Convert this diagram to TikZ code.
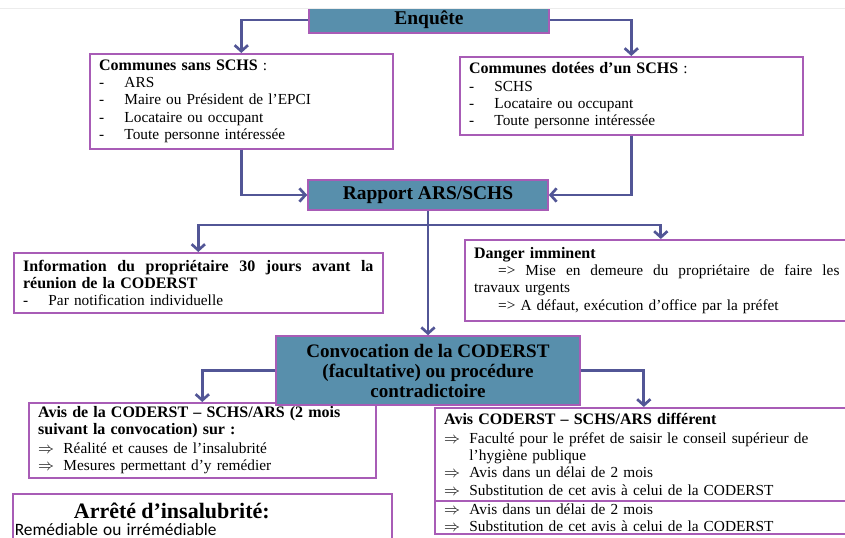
\documentclass[tikz,border=0pt]{standalone}
\usepackage{fontspec}
\setmainfont{Liberation Serif}
\newfontfamily\calibfont{Carlito}
\usepackage{tikz}
\usetikzlibrary{arrows.meta,positioning}
\definecolor{boxblue}{RGB}{88,143,172}
\definecolor{boxline}{RGB}{168,92,182}
\definecolor{arrline}{RGB}{82,86,150}
\newcommand{\tiret}{\makebox[19pt][l]{-}}
\newcommand{\alors}{\makebox[19pt][l]{$\Rightarrow$}}
\newcommand{\gras}[1]{{\fontsize{12}{13}\selectfont\bfseries #1}}
\newcommand{\etire}[2]{\makebox[#1][s]{\spaceskip=0pt\xspaceskip=0pt\relax #2}}

\begin{document}
\begin{tikzpicture}[x=0.75pt, y=-0.75pt,
    every node/.style={font=\fontsize{11.5}{13}\selectfont},
    bluebox/.style={draw=boxline, line width=1.2pt, fill=boxblue, inner sep=0pt, align=center,
      font=\fontsize{14.6}{15}\selectfont\bfseries},
    whitebox/.style={draw=boxline, line width=1.2pt, fill=white, anchor=north west,
      inner xsep=7pt, inner ysep=1.5pt, align=left},
    arr/.style={draw=arrline, line width=2pt, -{Straight Barb[length=4.5pt,width=10pt]}}]
  \useasboundingbox (0,0) rectangle (845,538);
  \clip (0,0) rectangle (845,538);

  % top row
  \node[bluebox, minimum width=180pt, minimum height=19.5pt] (enq) at (429,20) {Enquête};
  \fill[white] (0,0) rectangle (845,8);
  \draw[gray!15] (0,8.5) -- (845,8.5);
  \node[whitebox, minimum width=227.25pt, minimum height=71.25pt, text width=213.25pt] (sans) at (89,53)
    {\gras{Communes sans SCHS} :\\
     \tiret ARS\\
     \tiret Maire ou Président de l’EPCI\\
     \tiret Locataire ou occupant\\
     \tiret Toute personne intéressée};
  \node[whitebox, minimum width=257.25pt, minimum height=58.5pt, text width=243.25pt] (dotees) at (459,56)
    {\gras{Communes dotées d’un SCHS} :\\
     \tiret SCHS\\
     \tiret Locataire ou occupant\\
     \tiret Toute personne intéressée};

  % rapport
  \node[bluebox, minimum width=180pt, minimum height=22.5pt] (rap) at (428,195) {Rapport ARS/SCHS};
  \node[whitebox, minimum width=276.75pt, minimum height=45pt, text width=262.75pt] (info) at (13,252)
    {\gras{\etire{262.75pt}{Information du propriétaire 30 jours avant la}}\\
     \gras{réunion de la CODERST}\\
     \tiret Par notification individuelle};
  \node[whitebox, minimum width=294pt, minimum height=60.75pt, text width=280pt] (danger) at (464,239)
    {\gras{Danger imminent}\\
     \hspace*{18pt}\etire{256pt}{=> Mise en demeure du propriétaire de faire les}\\
     travaux urgents\\
     \hspace*{18pt}=> A défaut, exécution d’office par la préfet};

  % avis
  \node[whitebox, minimum width=260.25pt, minimum height=56.25pt, text width=246.25pt] (avisa) at (28,402)
    {\gras{Avis de la CODERST – SCHS/ARS (2 mois}\\
     \gras{suivant la convocation) sur :}\\[1pt]
     \alors Réalité et causes de l’insalubrité\\
     \alors Mesures permettant d’y remédier};
  \node[whitebox, minimum width=313.5pt, minimum height=69.75pt, text width=299.5pt] (avisb) at (434,407)
    {\gras{Avis CODERST – SCHS/ARS différent}\\[1pt]
     \alors Faculté pour le préfet de saisir le conseil supérieur de\\
     \hspace*{19pt}l’hygiène publique\\
     \alors Avis dans un délai de 2 mois\\
     \alors Substitution de cet avis à celui de la CODERST};
  \node[whitebox, minimum width=313.5pt, text width=299.5pt, inner ysep=2pt] (avisc) at (434,500)
    {\alors Avis dans un délai de 2 mois\\
     \alors Substitution de cet avis à celui de la CODERST};
  \node[whitebox, minimum width=284.25pt, minimum height=38pt, inner xsep=1.5pt, text width=281.25pt] (arrete) at (12,493)
    {\makebox[235.5pt][c]{\fontsize{16.5}{17}\selectfont\bfseries Arrêté d’insalubrité:}\\
     {\calibfont\fontsize{13}{13}\selectfont Remédiable ou irrémédiable}};

  % convocation
  \node[bluebox, minimum width=228pt, minimum height=51.75pt, font=\fontsize{14.3}{15}\selectfont\bfseries] (conv) at (428,370.5)
    {Convocation de la CODERST\\(facultative) ou procédure\\contradictoire};

  % connectors
  \coordinate (fork) at (428,225);
  \draw[arr] (enq.west) -| (sans.north);
  \draw[arr] (enq.east) -| (dotees.north);
  \draw[arr] (sans.south) |- (rap.west);
  \draw[arr] (dotees.south) |- (rap.east);
  \draw[arr] (rap.south) -- (conv.north);
  \draw[arr] (fork) -| (info.north);
  \draw[arr] (fork) -| (danger.north);
  \draw[arr] (conv.west) -| (avisa.north);
  \draw[arr] (conv.east) -| (avisb.north);
\end{tikzpicture}
\end{document}
